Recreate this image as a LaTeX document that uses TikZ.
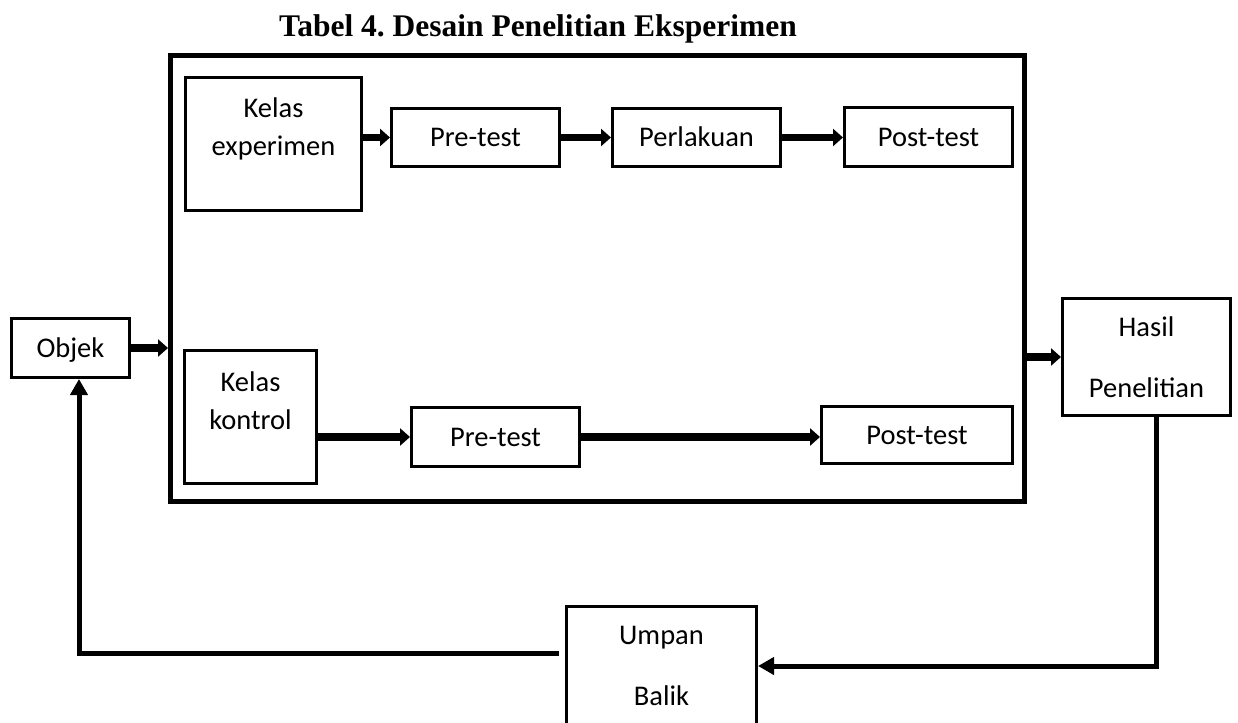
\documentclass[tikz,border=0pt]{standalone}
\usepackage{fontspec}
\setmainfont{Carlito}
\newfontfamily\titlefont{Liberation Serif}
\usetikzlibrary{arrows.meta}

\tikzset{
  box/.style={draw, line width=3pt, inner sep=0pt, font=\fontsize{28.5}{38}\selectfont},
  oneline/.style={box, text height=18.4pt, text depth=0pt},
  twoline/.style={box, align=center, font=\fontsize{28.5}{60.5}\selectfont},
  toptext/.style={align=center, font=\fontsize{28.5}{38}\selectfont},
  bigbox/.style={draw, line width=5pt, inner sep=0pt},
  arr/.style={line width=7.5pt, -{Triangle[length=10pt,width=17pt]}},
  back/.style={line width=5pt, -{Triangle[length=16pt,width=17pt]}},
}

\begin{document}
\begin{tikzpicture}[x=1pt,y=-1pt]
\useasboundingbox (0,0) rectangle (1238,722);
\node[font=\titlefont\bfseries\fontsize{31.5}{36}\selectfont, anchor=base] (title) at (538,36.5) {Tabel 4.\ Desain Penelitian Eksperimen};
\node[bigbox, minimum width=854pt, minimum height=446pt] (frame) at (597.5,278.5) {};
% upper row
\node[box, minimum width=176pt, minimum height=133pt, label={[toptext, yshift=15pt]center:Kelas\\experimen}] (kelasexp) at (273.5,144) {};
\node[oneline, minimum width=168pt, minimum height=58pt] (pre1) at (475.5,137.5) {Pre-test};
\node[oneline, minimum width=168pt, minimum height=58pt] (perlakuan) at (696.5,137.5) {Perlakuan};
\node[oneline, minimum width=168pt, minimum height=59pt] (post1) at (928.5,137.5) {Post-test};
% lower row
\node[box, minimum width=132pt, minimum height=133pt, label={[toptext, yshift=16pt]center:Kelas\\kontrol}] (kelaskon) at (250.5,417) {};
\node[oneline, minimum width=168pt, minimum height=59pt] (pre2) at (495.5,437) {Pre-test};
\node[oneline, minimum width=191pt, minimum height=57pt] (post2) at (917,435) {Post-test};
% outside
\node[oneline, minimum width=118pt, minimum height=59pt] (objek) at (70.5,348) {Objek};
\node[twoline, minimum width=168pt, minimum height=117pt] (hasil) at (1146.5,357) {Hasil\\Penelitian};
\node[twoline, minimum width=190pt, minimum height=119pt] (umpan) at (661.5,666) {Umpan\\Balik};
\coordinate (fb) at (559,653);
\draw[arr] (kelasexp.east |- pre1.west) -- (pre1.west);
\draw[arr] (pre1.east) -- (pre1.east -| perlakuan.west);
\draw[arr] (perlakuan.east) -- (perlakuan.east -| post1.west);
\draw[arr] (kelaskon.east |- pre2.west) -- (pre2.west);
\draw[arr] (pre2.east) -- (pre2.east -| post2.west);
\draw[arr] (objek.east) -- (objek.east -| frame.west);
\draw[arr] (frame.east |- hasil.west) -- (hasil.west);
\draw[back] ([xshift=10pt]hasil.south) |- (umpan.east);
\draw[back] (fb) -| ([xshift=8.5pt]objek.south);
\end{tikzpicture}
\end{document}
